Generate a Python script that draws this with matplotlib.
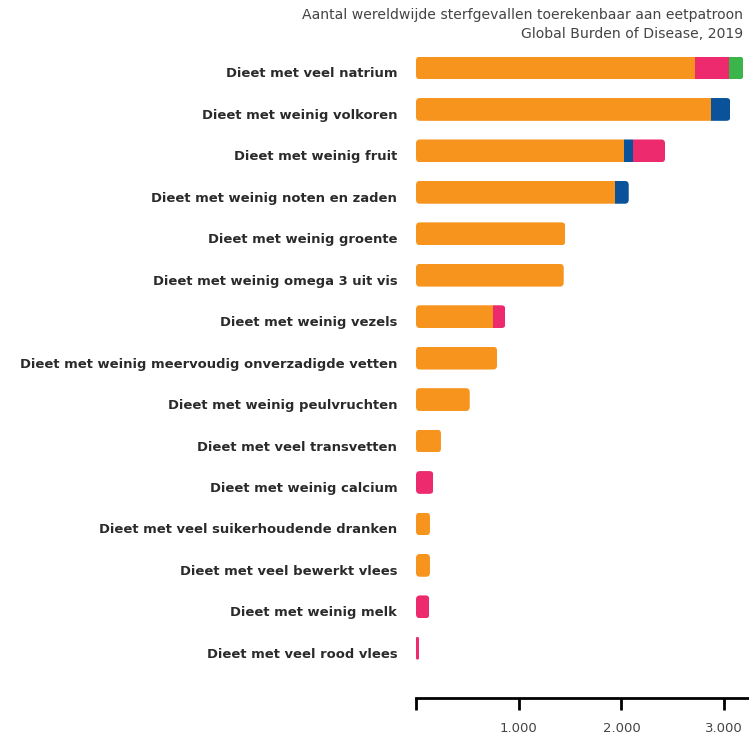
import numpy as np
import matplotlib.pyplot as plt
import matplotlib.transforms as mtrans
from matplotlib.patches import FancyBboxPatch
from matplotlib.ticker import FuncFormatter

# data (sterfgevallen, x1000)
categories = [
    "Dieet met veel natrium",
    "Dieet met weinig volkoren",
    "Dieet met weinig fruit",
    "Dieet met weinig noten en zaden",
    "Dieet met weinig groente",
    "Dieet met weinig omega 3 uit vis",
    "Dieet met weinig vezels",
    "Dieet met weinig meervoudig onverzadigde vetten",
    "Dieet met weinig peulvruchten",
    "Dieet met veel transvetten",
    "Dieet met weinig calcium",
    "Dieet met veel suikerhoudende dranken",
    "Dieet met veel bewerkt vlees",
    "Dieet met weinig melk",
    "Dieet met veel rood vlees",
]
oranje = [2720, 2873, 2025, 1938, 1454, 1438, 747, 789, 523, 243, 0, 136, 136, 0, 0]
blauw = [0, 188, 85, 133, 0, 0, 0, 0, 0, 0, 0, 0, 0, 0, 0]
roze = [325, 0, 315, 0, 0, 0, 123, 0, 0, 0, 169, 0, 0, 130, 29]
groen = [142, 0, 0, 0, 0, 0, 0, 0, 0, 0, 0, 0, 0, 0, 0]
xticks = [0, 1000, 2000, 3000]

colors = ["#F7941D", "#0A5299", "#EE2A6E", "#3AB54A"]

W, H = 749, 735
fig = plt.figure(figsize=(W / 100, H / 100), dpi=100)
ax_l, ax_r, ax_t, ax_b = 416, 749, 40, 698
ax = fig.add_axes([ax_l / W, (H - ax_b) / H, (ax_r - ax_l) / W, (ax_b - ax_t) / H])

xmax = 3242
ylo, yhi = -0.675, 15.2
ax.set_xlim(0, xmax)
ax.set_ylim(yhi, ylo)

y = np.arange(len(categories))
bh = 0.55
series = [np.array(oranje), np.array(blauw), np.array(roze), np.array(groen)]
totals = sum(series)

# rounded outline per row, used as clip path
px_x = (ax_r - ax_l) / xmax
px_y = (ax_b - ax_t) / (yhi - ylo)
r_px = 4.0
clips = []
for yi, tot in zip(y, totals):
    r = min(r_px / px_x, tot / 2)
    p = FancyBboxPatch((0, yi - bh / 2), tot, bh,
                       boxstyle=f"round,pad=0,rounding_size={r}",
                       mutation_aspect=px_x / px_y,
                       transform=ax.transData, fc="none", ec="none")
    clips.append(p)

left = np.zeros(len(categories))
for vals, c in zip(series, colors):
    bars = ax.barh(y, vals, left=left, height=bh, color=c, linewidth=0)
    for b, clip in zip(bars, clips):
        b.set_clip_path(clip)
    left = left + vals

ax.set_yticks(y, categories)
ax.tick_params(axis="y", length=0, pad=13.5)
shift = mtrans.ScaledTranslation(0, -4.5 / 100, fig.dpi_scale_trans)
for t in ax.get_yticklabels():
    t.set_fontweight("bold")
    t.set_fontsize(9.47)
    t.set_color("#2a2a2a")
    t.set_transform(t.get_transform() + shift)

ax.set_xticks(xticks)
ax.xaxis.set_major_formatter(FuncFormatter(lambda v, p: "" if v == 0 else f"{int(v):,}".replace(",", ".")))
ax.tick_params(axis="x", direction="out", length=8.5, width=2, color="black",
               pad=8.5, labelsize=9.5, labelcolor="#444444")

for s in ["top", "right", "left"]:
    ax.spines[s].set_visible(False)
ax.spines["bottom"].set_linewidth(2)
ax.spines["bottom"].set_color("black")

fig.text(743 / W, 1 - 15 / H, "Aantal wereldwijde sterfgevallen toerekenbaar aan eetpatroon",
         ha="right", va="center", fontsize=10.1, color="#444444")
fig.text(743 / W, 1 - 34 / H, "Global Burden of Disease, 2019",
         ha="right", va="center", fontsize=10.1, color="#444444")

fig.savefig("out.png", dpi=100)
